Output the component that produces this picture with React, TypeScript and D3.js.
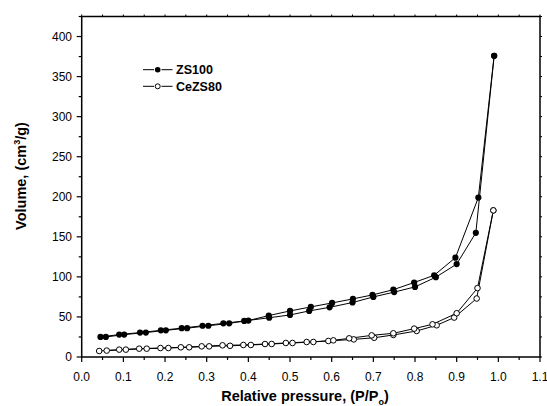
import React from "react";
import * as d3 from "d3";

const zsAdsX = [0.045, 0.09, 0.14, 0.19, 0.24, 0.29, 0.34, 0.39, 0.45, 0.5, 0.546, 0.595, 0.65, 0.7, 0.75, 0.8, 0.85, 0.9, 0.946, 0.99];
const zsAdsY = [25, 28, 30.5, 33.3, 36, 39, 42, 45, 49, 52.5, 57.5, 62, 68, 75, 81, 87.5, 99.6, 116, 155, 376];
const zsDesX = [0.99, 0.952, 0.897, 0.846, 0.798, 0.748, 0.698, 0.651, 0.601, 0.55, 0.5, 0.449, 0.4, 0.354, 0.304, 0.253, 0.202, 0.154, 0.102, 0.058];
const zsDesY = [376, 199, 124, 102, 93, 84, 77.5, 72.5, 67.5, 62.5, 57.5, 51.7, 45.5, 42, 39, 36, 33.3, 30.5, 28, 25];

const ceAdsX = [0.042, 0.09, 0.138, 0.189, 0.238, 0.288, 0.338, 0.388, 0.44, 0.49, 0.54, 0.592, 0.653, 0.702, 0.748, 0.804, 0.852, 0.894, 0.948, 0.988];
const ceAdsY = [7.5, 9.2, 10.4, 11.2, 12.1, 13.3, 14.6, 15, 16.2, 17.5, 18.7, 20, 22, 24, 27.5, 32.5, 39.6, 49.2, 73, 183];
const ceDesX = [0.988, 0.95, 0.9, 0.842, 0.798, 0.748, 0.696, 0.642, 0.604, 0.556, 0.506, 0.456, 0.406, 0.356, 0.306, 0.258, 0.208, 0.156, 0.106, 0.06];
const ceDesY = [183, 86, 54.6, 40.8, 35.4, 29.6, 27, 23.3, 20.8, 18.75, 17.5, 16.25, 15, 14, 13.3, 12.1, 11.2, 10.4, 9.2, 8];

const xMajor = [0, 0.1, 0.2, 0.3, 0.4, 0.5, 0.6, 0.7, 0.8, 0.9, 1.0, 1.1];
const yMajor = [0, 50, 100, 150, 200, 250, 300, 350, 400];
const seriesNames = ["ZS100", "CeZS80"];

const FONT = "'Liberation Sans', Arial, sans-serif";

export default function App() {
  const W = 547, H = 406;
  const L = 81.7, R = 540, T = 16.5, B = 357;
  const x = d3.scaleLinear().domain([0, 1.1]).range([L, R]);
  const y = d3.scaleLinear().domain([0, 425]).range([B, T]);

  const zip = (xs: number[], ys: number[]) => xs.map((v, i) => [v, ys[i]] as [number, number]);
  const zsPts = [...zip(zsAdsX, zsAdsY), ...zip(zsDesX, zsDesY)];
  const cePts = [...zip(ceAdsX, ceAdsY), ...zip(ceDesX, ceDesY)];
  const line = d3.line<[number, number]>().x(d => x(d[0])).y(d => y(d[1]));

  const xMinor = d3.range(0, 23).map(i => i * 0.05);
  const yMinor = d3.range(0, 18).map(i => i * 25);

  return (
    <svg width={W} height={H} style={{ position: "absolute", left: 0, top: 0, background: "#fff" }} fontFamily={FONT}>
      <rect x={0} y={0} width={W} height={H} fill="#fff" />
      <path d={line(zsPts) || ""} fill="none" stroke="#000" strokeWidth={1} />
      <path d={line(cePts) || ""} fill="none" stroke="#000" strokeWidth={1} />
      {zsPts.map((p, i) => (
        <circle key={"z" + i} cx={x(p[0])} cy={y(p[1])} r={3.1} fill="#000" />
      ))}
      {cePts.map((p, i) => (
        <circle key={"c" + i} cx={x(p[0])} cy={y(p[1])} r={2.8} fill="#fff" stroke="#000" strokeWidth={1} />
      ))}
      <rect x={L} y={T} width={R - L} height={B - T} fill="none" stroke="#000" strokeWidth={1.5} />
      {xMinor.map((v, i) => (
        <line key={"xb" + i} x1={x(v)} x2={x(v)} y1={B} y2={B + (i % 2 === 0 ? 5 : 3)} stroke="#000" strokeWidth={1.2} />
      ))}
      {xMinor.map((v, i) => (
        <line key={"xt" + i} x1={x(v)} x2={x(v)} y1={T} y2={T - 2} stroke="#000" strokeWidth={1} />
      ))}
      {yMinor.map((v, i) => (
        <line key={"yl" + i} x1={L} x2={L - (i % 2 === 0 ? 5 : 3)} y1={y(v)} y2={y(v)} stroke="#000" strokeWidth={1.2} />
      ))}
      {yMinor.map((v, i) => (
        <line key={"yr" + i} x1={R} x2={R + 2} y1={y(v)} y2={y(v)} stroke="#000" strokeWidth={1} />
      ))}
      {xMajor.map((v, i) => (
        <text key={"xl" + i} x={x(v)} y={381} fontSize={12} textAnchor="middle">{v.toFixed(1)}</text>
      ))}
      {yMajor.map((v, i) => (
        <text key={"yt" + i} x={72} y={y(v) + 4.3} fontSize={12} textAnchor="end">{v}</text>
      ))}
      <text x={305} y={401} fontSize={14.5} fontWeight="bold" textAnchor="middle">
        Relative pressure, (P/P<tspan fontSize={9} dy={4}>o</tspan><tspan dy={-4}>)</tspan>
      </text>
      <text transform="translate(26,176) rotate(-90)" fontSize={14.5} fontWeight="bold" textAnchor="middle">
        Volume, (cm<tspan fontSize={9} dy={-6}>3</tspan><tspan dy={6}>/g)</tspan>
      </text>
      {seriesNames.map((name, i) => {
        const ly = 69.7 + i * 16.6;
        return (
          <g key={"lg" + i}>
            <line x1={143} x2={154} y1={ly} y2={ly} stroke="#000" strokeWidth={1} />
            <line x1={161.5} x2={172.5} y1={ly} y2={ly} stroke="#000" strokeWidth={1} />
            {i === 0 ? (
              <circle cx={157.7} cy={ly} r={2.8} fill="#000" />
            ) : (
              <circle cx={157.7} cy={ly} r={2.5} fill="#fff" stroke="#000" strokeWidth={1} />
            )}
            <text x={176} y={ly + 4.5} fontSize={12.5} fontWeight="bold">{name}</text>
          </g>
        );
      })}
    </svg>
  );
}
